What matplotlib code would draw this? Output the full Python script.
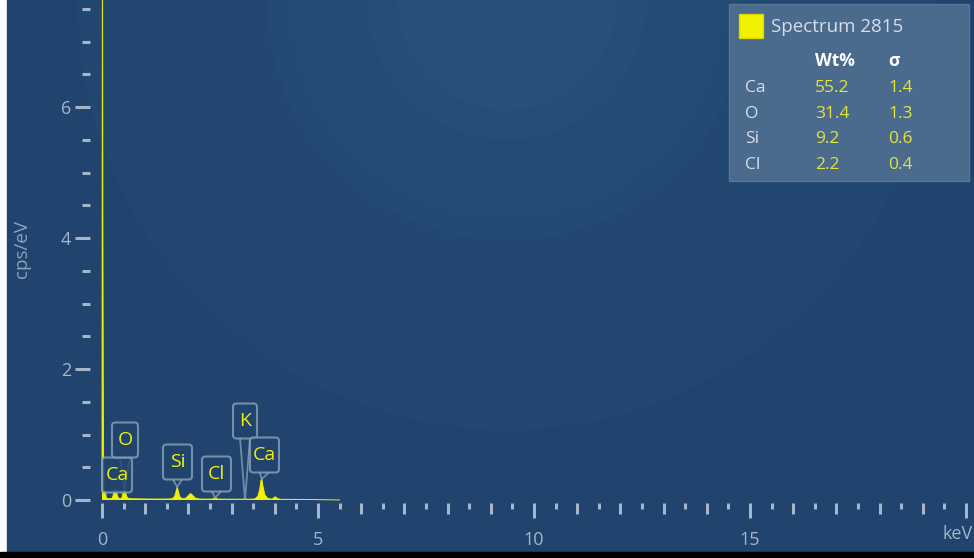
import matplotlib
matplotlib.use('Agg')
import matplotlib.pyplot as plt
from matplotlib.patches import Rectangle, Circle, FancyBboxPatch, Polygon
from matplotlib.ticker import MultipleLocator, FixedLocator

plt.rcParams['font.family'] = ['Open Sans', 'DejaVu Sans']

# spectrum (keV, cps/eV)
energy_kev = [0.00, 0.01, 0.02, 0.03, 0.04, 0.06, 0.08, 0.10, 0.14, 0.20, 0.24, 0.27, 0.29,
              0.31, 0.33, 0.35, 0.38, 0.42, 0.46, 0.48, 0.50, 0.52, 0.54, 0.56, 0.59, 0.66,
              0.80, 1.00, 1.20, 1.40, 1.55, 1.62, 1.68, 1.71, 1.74, 1.77, 1.80, 1.86, 1.95,
              2.00, 2.05, 2.10, 2.16, 2.25, 2.40, 2.56, 2.62, 2.68, 2.80, 3.00, 3.25, 3.31,
              3.37, 3.50, 3.55, 3.61, 3.65, 3.68, 3.70, 3.73, 3.77, 3.83, 3.90, 3.95, 4.01,
              4.07, 4.15, 4.50, 5.00, 5.50]
cps_per_ev = [0.14, 9.50, 4.30, 1.80, 0.15, 0.14, 0.12, 0.03, 0.02, 0.02, 0.03, 0.10, 0.14,
              0.15, 0.14, 0.08, 0.03, 0.02, 0.03, 0.09, 0.14, 0.15, 0.14, 0.08, 0.03, 0.02,
              0.018, 0.016, 0.015, 0.015, 0.016, 0.02, 0.05, 0.12, 0.20, 0.13, 0.05, 0.02, 0.03,
              0.07, 0.10, 0.07, 0.03, 0.016, 0.014, 0.015, 0.035, 0.015, 0.013, 0.012, 0.012, 0.02,
              0.012, 0.014, 0.02, 0.06, 0.16, 0.30, 0.32, 0.20, 0.08, 0.03, 0.015, 0.02, 0.05,
              0.02, 0.01, 0.009, 0.006, 0.0]

# peak labels: text, energy of the peak tip, height of the tip
peak_names = ['Ca', 'O', 'Si', 'Cl', 'K', 'Ca']
peak_kev = [0.31, 0.52, 1.74, 2.62, 3.31, 3.70]
peak_top = [0.15, 0.15, 0.20, 0.035, 0.0, 0.32]

# quantification table
elements = ['Ca', 'O', 'Si', 'Cl']
wt_pct = ['55.2', '31.4', '9.2', '2.2']
sigma = ['1.4', '1.3', '0.6', '0.4']
spectrum_name = 'Spectrum 2815'

BG = '#20446e'
TICK = '#a6b5c7'
YEL = '#f2f200'

W, H = 974, 558
fig = plt.figure(figsize=(W / 100, H / 100), dpi=100, facecolor='white')

# background in pixel coords
bg = fig.add_axes([0, 0, 1, 1])
bg.set_xlim(0, W)
bg.set_ylim(H, 0)
bg.axis('off')
bg.add_patch(Rectangle((7, 0), W - 7, 552, color=BG, zorder=0))
bg.add_patch(Rectangle((0, 552), W, 6, color='black', zorder=0))
for r, a in [(430, 0.035), (330, 0.03), (240, 0.035), (215, 0.03), (140, 0.04), (110, 0.04)]:
    c = Circle((507, 0), r, color='#4b86b8', alpha=a, lw=0, zorder=1)
    c.set_clip_path(bg.patches[0])
    bg.add_patch(c)

# legend / table box
bg.add_patch(Rectangle((729, 4), 240, 177, facecolor='#4a6a8e', edgecolor='#56779a', lw=1, zorder=3))
bg.add_patch(Rectangle((739, 14), 24, 24, facecolor=YEL, edgecolor='#d8d800', zorder=4))
bg.text(771, 27, spectrum_name, color='#d9dee6', fontsize=13.5, va='center', zorder=4)
bg.text(815, 61, 'Wt%', color='white', fontsize=12.5, fontweight='bold', va='center', zorder=4)
bg.text(888, 61, 'σ', color='white', fontsize=12.5, fontweight='bold', va='center', zorder=4)
for i, el in enumerate(elements):
    yy = 88 + i * 25.7
    bg.text(745, yy, el, color='#d9dee6', fontsize=12.5, va='center', zorder=4)
    bg.text(815, yy, wt_pct[i], color='#e4e43a', fontsize=12.5, va='center', zorder=4)
    bg.text(888, yy, sigma[i], color='#e4e43a', fontsize=12.5, va='center', zorder=4)

# main axes: x=0 at px 102, 43.2 px/keV; y=0 at px 500, 65.5 px/unit
px_k, px_y = 43.2, 65.5
ax = fig.add_axes([90 / W, (H - 503) / H, 880 / W, 503 / H])
ax.set_facecolor('none')
ax.set_xlim(-12 / px_k, 868 / px_k)
ax.set_ylim(-3 / px_y, 500 / px_y)
for s in ax.spines.values():
    s.set_visible(False)

ax.fill_between(energy_kev, 0, cps_per_ev, color=YEL, lw=0, zorder=3)
ax.plot(energy_kev, cps_per_ev, color=YEL, lw=0.7, alpha=0.9, zorder=3)

# peak label callouts
box_w = [30, 26, 29, 29, 24, 29]
box_cx = [117, 125, 177.5, 216.5, 245, 264.5]
box_cy = [475, 440, 462, 474, 421, 455]
box_h = 35
for name, e, top, bw, cx, cy in zip(peak_names, peak_kev, peak_top, box_w, box_cx, box_cy):
    xc = (cx - 102) / px_k
    yc = (500 - cy) / px_y
    hw = bw / 2 / px_k
    hh = box_h / 2 / px_y
    half_tail = 5 / px_k
    tail = Polygon([(xc - half_tail, yc - hh + 0.01), (e, top), (xc + half_tail, yc - hh + 0.01)],
                   closed=False, facecolor=BG, edgecolor='#8ea2b9', lw=1.3, alpha=0.75, zorder=4)
    ax.add_patch(tail)
    box = FancyBboxPatch((xc - hw, yc - hh), 2 * hw, 2 * hh,
                         boxstyle='round,pad=0,rounding_size=0.08', mutation_aspect=px_k / px_y,
                         facecolor=BG, edgecolor='#8ea2b9', lw=1.5, alpha=0.8, zorder=5)
    ax.add_patch(box)
    ax.text(xc, yc, name, color=YEL, fontsize=14, ha='center', va='center', zorder=6)

# y ticks
ax.yaxis.set_major_locator(FixedLocator([0, 2, 4, 6]))
ax.yaxis.set_minor_locator(MultipleLocator(0.5))
ax.tick_params(axis='y', which='major', direction='out', length=10.5, width=2.2,
               color=TICK, labelcolor=TICK, labelsize=13, pad=3)
ax.tick_params(axis='y', which='minor', direction='out', length=5.5, width=2.2, color=TICK)
ax.set_ylabel('cps/eV', color='#8ea2b9', fontsize=13.5)
ax.yaxis.set_label_coords(-59 / 880, 0.505)

# x ticks: multiples of 5 long, integers medium, halves short
ax.xaxis.set_major_locator(FixedLocator([0, 5, 10, 15, 20]))
ax.set_xticklabels(['0', '5', '10', '15', ''])
ax.xaxis.set_minor_locator(FixedLocator([i * 0.5 for i in range(41) if i % 2 == 1]))
ax.tick_params(axis='x', which='major', direction='out', length=11, width=2.2,
               color=TICK, labelcolor=TICK, labelsize=13, pad=9)
ax.tick_params(axis='x', which='minor', direction='out', length=4.5, width=2.2, color=TICK)
sec = ax.secondary_xaxis('bottom')
sec.spines['bottom'].set_visible(False)
sec.xaxis.set_major_locator(FixedLocator([i for i in range(1, 20) if i % 5 != 0]))
sec.tick_params(axis='x', direction='out', length=8, width=2.2, color=TICK, labelbottom=False)
ax.text(20.15, -34 / px_y, 'keV', color=TICK, fontsize=13, ha='right', va='center')

fig.savefig('out.png', dpi=100, facecolor=fig.get_facecolor())
